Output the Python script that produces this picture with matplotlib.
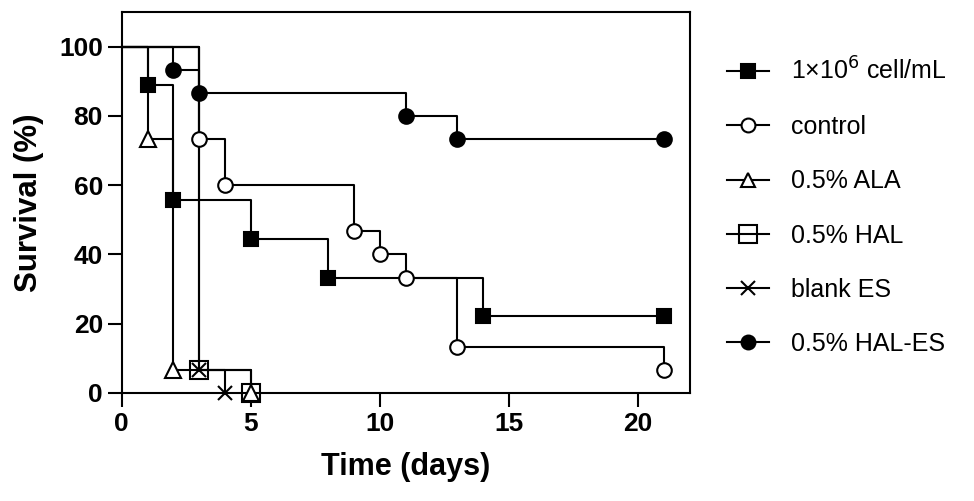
import matplotlib
matplotlib.use("Agg")
import matplotlib.pyplot as plt

plt.rcParams['font.family'] = ['Liberation Sans', 'DejaVu Sans']

labels = ['1×10$^{6}$ cell/mL', 'control', '0.5% ALA', '0.5% HAL', 'blank ES', '0.5% HAL-ES']

t_cell = [0, 1, 2, 5, 8, 14, 21]
s_cell = [100, 88.9, 55.6, 44.4, 33.3, 22.2, 22.2]

t_ctrl = [0, 3, 4, 9, 10, 11, 13, 21]
s_ctrl = [100, 73.3, 60, 46.7, 40, 33.3, 13.3, 6.7]

t_ala = [0, 1, 2, 5]
s_ala = [100, 73.3, 6.7, 0]

t_hal = [0, 3, 5]
s_hal = [100, 6.7, 0]

t_blank = [0, 3, 4]
s_blank = [100, 6.7, 0]

t_hales = [0, 2, 3, 11, 13, 21]
s_hales = [100, 93.3, 86.7, 80, 73.3, 73.3]

x_ticks = [0, 5, 10, 15, 20]
y_ticks = [0, 20, 40, 60, 80, 100]

series = [
    (t_cell, s_cell, dict(marker='s', mfc='black', ms=10)),
    (t_ctrl, s_ctrl, dict(marker='o', mfc='white', ms=10.5)),
    (t_ala, s_ala, dict(marker='^', mfc='white', ms=11)),
    (t_hal, s_hal, dict(marker='s', mfc='none', ms=13.5)),
    (t_blank, s_blank, dict(marker='x', mfc='none', ms=10)),
    (t_hales, s_hales, dict(marker='o', mfc='black', ms=10.5)),
]

fig = plt.figure(figsize=(9.74, 5.01), dpi=100)
ax = fig.add_axes([0.125, 0.216, 0.583, 0.76])

handles = []
for (t, s, mk), lab in zip(series, labels):
    ax.step(t, s, where='post', color='black', lw=1.5, clip_on=False, zorder=2)
    ax.plot(t[1:], s[1:], linestyle='none', color='black', mec='black', mew=1.5,
            clip_on=False, zorder=3, **mk)
    h, = ax.plot([], [], color='black', lw=1.5, mec='black', mew=1.5, **mk)
    handles.append(h)

ax.set_xlim(0, 22)
ax.set_ylim(0, 110)
ax.set_xticks(x_ticks)
ax.set_yticks(y_ticks)
for sp in ax.spines.values():
    sp.set_linewidth(1.5)
ax.tick_params(direction='out', length=10, width=1.5, pad=3.5, labelsize=19)
for lab in ax.get_xticklabels() + ax.get_yticklabels():
    lab.set_fontweight('bold')

ax.set_xlabel('Time (days)', fontsize=22, fontweight='bold', labelpad=12)
ax.set_ylabel('Survival (%)', fontsize=22.5, fontweight='bold', labelpad=11)

leg = fig.legend(handles, labels, loc='upper left', bbox_to_anchor=(0.736, 0.905),
                 frameon=False, fontsize=18, handlelength=1.7, handletextpad=0.85,
                 labelspacing=1.21, borderaxespad=0, markerscale=0.95)

fig.savefig('out.png', dpi=100)
